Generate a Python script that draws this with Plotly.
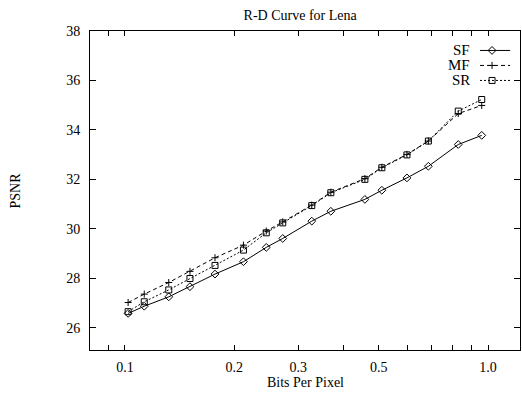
import plotly.graph_objects as go
import numpy as np

# Data
bpp = [0.102, 0.113, 0.132, 0.151, 0.177, 0.212, 0.245, 0.272, 0.327, 0.369,
       0.458, 0.510, 0.598, 0.685, 0.828, 0.961]
psnr_sf = [26.58, 26.87, 27.25, 27.66, 28.17, 28.67, 29.25, 29.61, 30.31, 30.71,
           31.19, 31.56, 32.06, 32.53, 33.41, 33.78]
psnr_mf = [27.02, 27.36, 27.83, 28.28, 28.83, 29.34, 29.91, 30.28, 30.96, 31.48,
           32.03, 32.49, 33.01, 33.55, 34.66, 34.99]
psnr_sr = [26.65, 27.05, 27.53, 27.99, 28.52, 29.14, 29.84, 30.24, 30.94, 31.46,
           32.00, 32.47, 32.99, 33.55, 34.76, 35.23]

series_names = ["SF", "MF", "SR"]
x_tickvals = [0.09, 0.1, 0.2, 0.3, 0.4, 0.5, 0.6, 0.7, 0.8, 0.9, 1.0]
x_ticktext = ["", "0.1", "0.2", "0.3", "", "0.5", "", "", "", "", "1.0"]
y_tickvals = [26, 28, 30, 32, 34, 36, 38]

FONT = "Liberation Serif"
styles = {
    "SF": dict(dash="solid", symbol="diamond-open", size=6),
    "MF": dict(dash="4px,3px", symbol="cross-thin-open", size=5),
    "SR": dict(dash="2px,2px", symbol="square-open", size=6),
}
values = {"SF": psnr_sf, "MF": psnr_mf, "SR": psnr_sr}

fig = go.Figure()
for name in series_names:
    st = styles[name]
    fig.add_trace(go.Scatter(
        x=bpp, y=values[name], mode="lines+markers", name=name,
        line=dict(color="black", width=1, dash=st["dash"]),
        marker=dict(symbol=st["symbol"], size=st["size"], color="black",
                    line=dict(color="black", width=1)),
        showlegend=False))

# custom legend (text left of the sample, as in the reference)
leg_y = [0.939, 0.892, 0.845]
for name, yy in zip(series_names, leg_y):
    st = styles[name]
    fig.add_trace(go.Scatter(
        x=[0.907, 0.977], y=[yy, yy], xaxis="x2", yaxis="y2", mode="lines",
        line=dict(color="black", width=1, dash=st["dash"]), showlegend=False,
        hoverinfo="skip", cliponaxis=False))
    fig.add_trace(go.Scatter(
        x=[0.935], y=[yy], xaxis="x2", yaxis="y2", mode="markers",
        marker=dict(symbol=st["symbol"], size=st["size"], color="black",
                    line=dict(color="black", width=1)),
        showlegend=False, hoverinfo="skip", cliponaxis=False))
    fig.add_annotation(x=0.888, y=yy, xref="x2 domain", yref="y2", text=name,
                       showarrow=False, xanchor="right", yanchor="middle",
                       font=dict(family=FONT, size=15, color="black"))

axis_common = dict(showline=True, linecolor="black", linewidth=1, mirror="ticks",
                   ticks="inside", tickcolor="black", showgrid=False, zeroline=False,
                   tickfont=dict(family=FONT, size=14, color="black"))

fig.update_layout(
    width=522, height=396,
    margin=dict(l=90, r=2, t=31, b=46),
    paper_bgcolor="white", plot_bgcolor="white",
    font=dict(family=FONT, size=14, color="black"),
    title=dict(text="R-D Curve for Lena", x=0.575, xanchor="center", y=0.962,
               yanchor="middle", font=dict(family=FONT, size=14, color="black")),
    xaxis=dict(type="log", range=[np.log10(0.0801), np.log10(1.225)],
               tickvals=x_tickvals, ticktext=x_ticktext, ticklen=5,
               ticklabelstandoff=4, **axis_common),
    yaxis=dict(range=[25.1, 38], tickvals=y_tickvals, ticklen=6,
               ticklabelstandoff=6, **axis_common),
    xaxis2=dict(overlaying="x", range=[0, 1], visible=False),
    yaxis2=dict(overlaying="y", range=[0, 1], visible=False),
    showlegend=False,
)

fig.add_annotation(x=0.5, y=0, xref="paper", yref="paper", yshift=-32,
                   text="Bits Per Pixel", showarrow=False, yanchor="middle",
                   font=dict(family=FONT, size=14, color="black"))
fig.add_annotation(x=0, y=0.5, xref="paper", yref="paper", xshift=-75,
                   text="PSNR", showarrow=False, textangle=-90,
                   xanchor="center", yanchor="middle",
                   font=dict(family=FONT, size=14, color="black"))

fig.write_html("out.html", config={"displayModeBar": False},
               post_script="document.body.style.margin='0';")
